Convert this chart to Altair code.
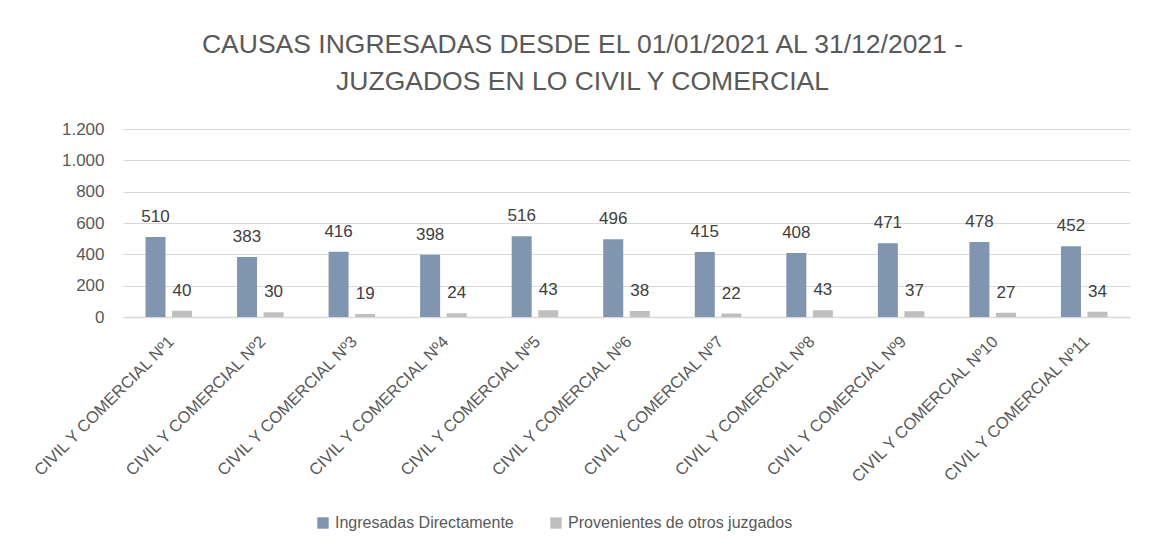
import altair as alt
import pandas as pd

juzgados = ["CIVIL Y COMERCIAL Nº1", "CIVIL Y COMERCIAL Nº2", "CIVIL Y COMERCIAL Nº3",
            "CIVIL Y COMERCIAL Nº4", "CIVIL Y COMERCIAL Nº5", "CIVIL Y COMERCIAL Nº6",
            "CIVIL Y COMERCIAL Nº7", "CIVIL Y COMERCIAL Nº8", "CIVIL Y COMERCIAL Nº9",
            "CIVIL Y COMERCIAL Nº10", "CIVIL Y COMERCIAL Nº11"]
directas = [510, 383, 416, 398, 516, 496, 415, 408, 471, 478, 452]
otros = [40, 30, 19, 24, 43, 38, 22, 43, 37, 27, 34]
series = ["Ingresadas Directamente", "Provenientes de otros juzgados"]
y_ticks = [0, 200, 400, 600, 800, 1000, 1200]

rows = []
for j, a, b in zip(juzgados, directas, otros):
    rows.append({"juzgado": j, "serie": series[0], "valor": a})
    rows.append({"juzgado": j, "serie": series[1], "valor": b})
df = pd.DataFrame(rows)

FONT = "Liberation Sans, Arial, sans-serif"

x = alt.X("juzgado:N", sort=juzgados, title=None,
          scale=alt.Scale(paddingInner=0.42, paddingOuter=0.21),
          axis=alt.Axis(labelAngle=-45, labelAlign="right", labelBaseline="top",
                        labelFontSize=16.5, labelColor="#595959", labelFont=FONT,
                        ticks=False, domainColor="#D9D9D9", domainWidth=1.5,
                        labelPadding=16, labelOffset=-3, labelLimit=300))
xoff = alt.XOffset("serie:N", sort=series, scale=alt.Scale(paddingInner=0, paddingOuter=0))
y = alt.Y("valor:Q", title=None,
          scale=alt.Scale(domain=[0, 1200], nice=False, zero=True),
          axis=alt.Axis(values=y_ticks, tickCount=7,
                        labelExpr="replace(format(datum.value, ','), ',', '.')",
                        labelFontSize=17, labelColor="#595959", labelFont=FONT,
                        labelOverlap=False, labelBound=False,
                        ticks=False, domain=False, gridColor="#D9D9D9", gridWidth=1.2,
                        labelPadding=19))

base = alt.Chart(df).encode(x=x, xOffset=xoff, y=y)

bars = base.mark_bar(size=20).encode(
    color=alt.Color("serie:N", sort=series,
                    scale=alt.Scale(domain=series, range=["#7F95B0", "#BFBFBF"]),
                    legend=alt.Legend(title=None, orient="none", direction="horizontal",
                                      legendX=192, legendY=386,
                                      symbolType="square", symbolSize=130,
                                      symbolStrokeWidth=0, labelFontSize=16,
                                      labelColor="#595959", labelFont=FONT,
                                      labelLimit=400,
                                      columnPadding=34, labelOffset=4)),
)

labels = base.mark_text(baseline="alphabetic", dy=-15, fontSize=17, color="#404040",
                        font=FONT).encode(
    text=alt.Text("valor:Q"),
)

chart = alt.layer(bars, labels).properties(
    width=1007, height=188,
    title=alt.TitleParams(
        ["CAUSAS INGRESADAS DESDE EL 01/01/2021 AL 31/12/2021 -",
         "JUZGADOS EN LO CIVIL Y COMERCIAL"],
        fontSize=26.5, font=FONT, color="#595959", fontWeight="normal",
        anchor="middle", dx=-44, offset=25, lineHeight=37),
    autosize=alt.AutoSizeParams(type="none"),
    padding={"left": 115, "top": 121, "right": 19, "bottom": 226},
).configure_view(stroke=None)

chart.save("out.html", embed_options={"renderer": "svg", "actions": False})
